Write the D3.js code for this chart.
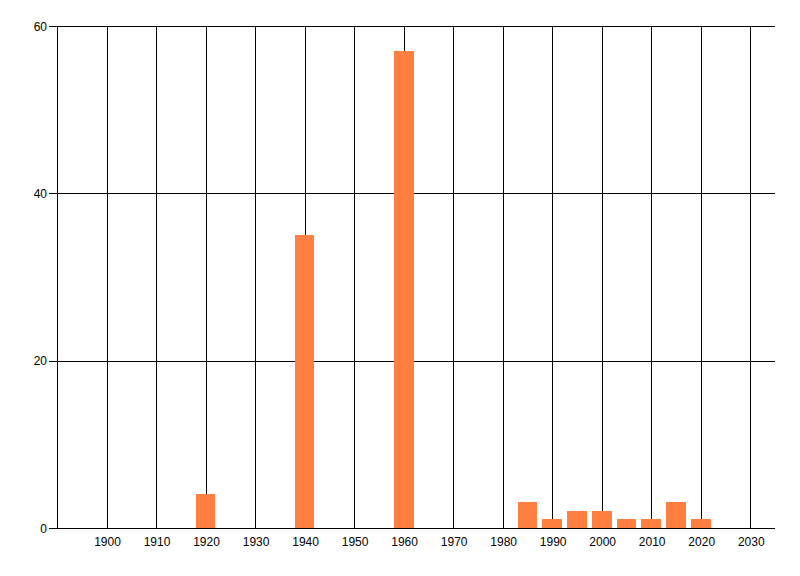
<!DOCTYPE html>
<html>
<head>
<meta charset="utf-8">
<script src="https://cdn.jsdelivr.net/npm/d3@7"></script>
<style>
  html, body { margin: 0; padding: 0; background: #fff; }
  svg { display: block; }
  text { font-family: "Liberation Sans", Arial, sans-serif; font-size: 12px; fill: #000; }
</style>
</head>
<body>
<svg id="chart" width="800" height="576"></svg>
<script>
const years = [1920, 1940, 1960, 1985, 1990, 1995, 2000, 2005, 2010, 2015, 2020];
const counts = [4, 35, 57, 3, 1, 2, 2, 1, 1, 3, 1];
const xTicks = [1900, 1910, 1920, 1930, 1940, 1950, 1960, 1970, 1980, 1990, 2000, 2010, 2020, 2030];
const yTicks = [0, 20, 40, 60];
const barYears = 4;

(function () {
const svg = d3.select("#chart");
const mLeft = 57, mRight = 775, mTop = 26, mBottom = 528;

const x = d3.scaleLinear().domain([1890, 2035]).range([mLeft, mRight]);
const y = d3.scaleLinear().domain([0, 60]).range([mBottom, mTop]);
const px = v => Math.round(v) + 0.5;

const g = svg.append("g").attr("shape-rendering", "crispEdges");

// vertical gridlines
g.selectAll("line.vx").data(xTicks).enter().append("line")
  .attr("x1", d => px(x(d))).attr("x2", d => px(x(d)))
  .attr("y1", px(y(60))).attr("y2", px(y(0)))
  .attr("stroke", "#000").attr("stroke-width", 1);

// horizontal gridlines with tick marks extending left
g.selectAll("line.hy").data(yTicks).enter().append("line")
  .attr("x1", mLeft - 8).attr("x2", mRight)
  .attr("y1", d => px(y(d))).attr("y2", d => px(y(d)))
  .attr("stroke", "#000").attr("stroke-width", 1);

// left axis line
g.append("line")
  .attr("x1", px(mLeft)).attr("x2", px(mLeft))
  .attr("y1", px(y(60))).attr("y2", px(y(0)))
  .attr("stroke", "#000");

// bars
const data = years.map((yr, i) => ({ yr, v: counts[i] }));
g.selectAll("rect.bar").data(data).enter().append("rect")
  .attr("x", d => Math.round(x(d.yr - barYears / 2)))
  .attr("width", d => Math.round(x(d.yr + barYears / 2)) - Math.round(x(d.yr - barYears / 2)))
  .attr("y", d => Math.floor(y(d.v)))
  .attr("height", d => Math.round(y(0)) - Math.floor(y(d.v)))
  .attr("fill", "#ff7f40");

// y labels
svg.selectAll("text.yl").data(yTicks).enter().append("text")
  .attr("x", mLeft - 10).attr("y", d => y(d) + 4.5)
  .attr("text-anchor", "end")
  .text(d => d);

// x labels
svg.selectAll("text.xl").data(xTicks).enter().append("text")
  .attr("x", d => x(d) + 1).attr("y", 545.5)
  .attr("text-anchor", "middle")
  .text(d => d);
})();
</script>
</body>
</html>
